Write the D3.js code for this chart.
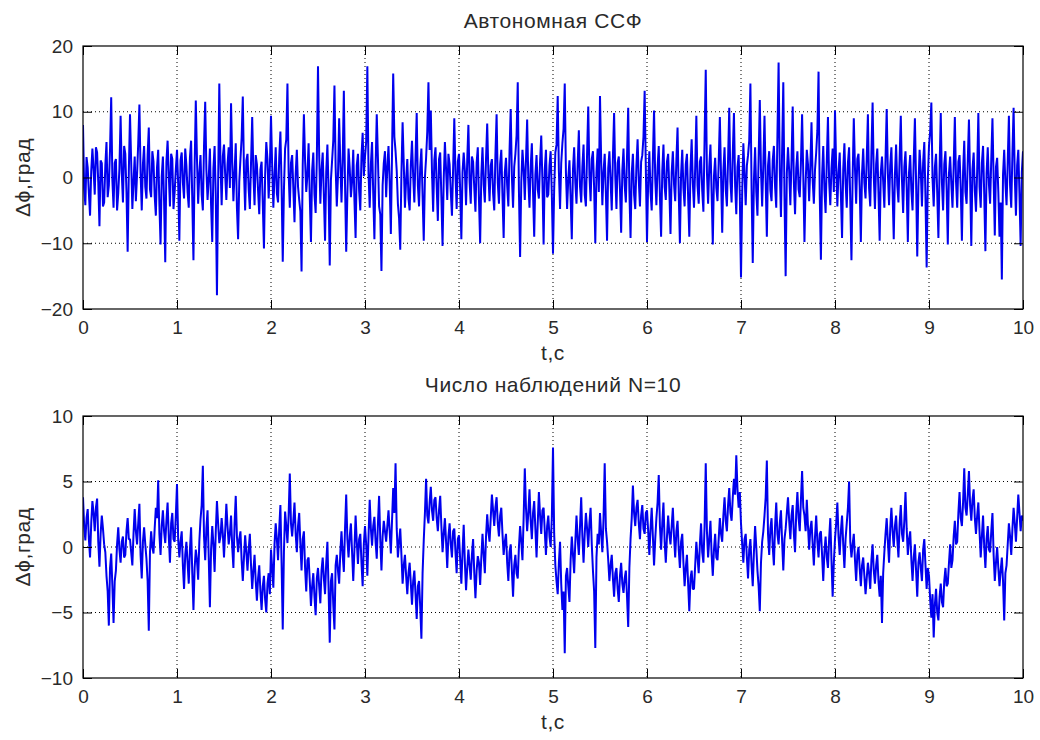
<!DOCTYPE html>
<html>
<head>
<meta charset="utf-8">
<script src="https://cdn.jsdelivr.net/npm/d3@7"></script>
<style>
  body { margin: 0; background: #fff; }
  text { font-family: "Liberation Sans", Arial, sans-serif; fill: #2a2a2a; }
</style>
</head>
<body>
<script>
// time step of the samples, seconds
const dt = 0.0125

// "Автономная ССФ" - phase error, deg (0..10 s, 20 samples per row = 0.25 s)
const autonomous = [
  8.0, -1.6, -4.2, 3.1, 1.5, -2.4, -5.8, 0.9, 4.4, 1.2, -2.6, 4.6, 3.8, -0.8, -7.4, 2.6, 2.2, -4.4, -3.8, 1.8,
  5.4, -3.0, -1.2, 4.2, 12.2, -0.4, -4.6, 2.2, 2.8, -5.0, -2.4, 1.4, 9.4, 0.6, -3.8, 4.8, 3.6, -2.2, -11.3, 1.0,
  9.6, 2.4, -4.8, -0.6, 3.2, -3.6, 0.4, 5.2, 11.1, 0.8, -5.0, 2.0, 4.8, -1.4, -3.2, 3.4, 7.6, -1.8, -3.0, 4.0,
  2.4, -2.8, -5.8, 1.6, 4.2, -4.0, -10.2, 0.2, 3.2, -3.6, -12.9, 2.4, 5.6, 0.4, -4.4, 3.6, 2.8, -4.8, -2.2, 1.2,
  4.2, -1.0, -9.6, 2.6, 3.8, -0.8, -3.2, 4.4, 1.8, -2.2, -4.6, 3.0, 5.6, -3.4, -12.6, 1.6, 11.7, 2.8, -4.0, 0.6,
  3.4, -2.6, -5.0, 4.8, 11.5, 1.2, -3.4, -0.2, 4.4, -4.2, -9.8, 1.4, 4.8, -2.8, -17.9, -1.0, 14.3, 2.2, -4.2, 3.2,
  5.0, 0.4, -3.4, 2.0, 4.6, -1.6, 11.3, 2.4, -3.6, 0.8, 5.2, -4.6, -9.4, -0.6, 2.8, 6.0, 12.3, 1.0, -5.0, 2.6,
  3.6, -1.8, -4.8, 2.2, 9.2, 0.6, -4.2, 3.4, 2.0, -2.0, -5.6, 1.2, 2.4, -4.0, -10.8, 0.4, 5.4, 2.8, -3.2, 1.4,
  9.4, 1.8, -4.6, 0.2, 4.6, -2.4, -3.8, 3.0, 7.0, -1.2, -12.8, -2.0, 4.4, 5.8, 14.3, 0.8, -4.6, 2.2, 3.4, -1.6,
  -6.8, 0.6, 4.2, -1.4, -3.4, -5.2, -14.3, 1.8, 9.6, 2.6, -2.2, 0.4, 5.2, -3.0, -9.8, 1.0, 3.8, -2.6, -5.4, 2.8,
  16.9, 3.4, -4.0, 1.2, 3.8, -2.8, -9.6, 0.8, 5.0, -1.8, -13.4, -0.4, 2.6, 5.6, 14.0, 1.6, -4.4, 0.2, 9.0, 2.2,
  -3.8, 2.4, 13.2, -1.0, -11.3, -2.6, 4.4, 1.4, -3.0, -0.6, 4.2, -3.4, -9.2, 1.8, 3.6, -2.0, -5.0, 3.2, 6.8, 0.2,
  3.2, 5.4, 16.9, 0.6, -4.6, 2.0, 5.4, -2.4, -9.4, 1.4, 9.6, 3.0, -4.4, -5.6, -14.2, -1.2, 2.2, 4.0, -3.0, 1.6,
  4.8, -0.8, -8.6, 3.6, 15.8, 6.2, 4.0, 1.0, -4.0, -6.2, -11.0, 0.6, 8.4, 2.0, -4.6, -0.4, 2.8, -3.2, -5.0, 1.8,
  5.6, 0.2, -3.8, 3.0, 9.8, -1.2, -4.4, 1.6, 4.4, -2.8, -9.6, 0.0, 3.0, 7.0, 14.5, 4.2, 10.2, 1.0, -5.2, 2.6,
  4.6, -1.4, -6.6, 2.8, 3.8, -3.0, -10.4, -0.2, 5.4, 1.2, -3.4, 3.6, 2.0, -2.2, -5.8, 1.4, 9.0, 0.4, -4.8, 2.4,
  3.6, -2.0, -9.4, 0.8, 3.8, 1.0, -4.2, 2.6, 8.0, -0.6, -4.0, 3.2, 2.4, -1.6, -5.2, 2.2, 4.6, -3.4, -10.0, 0.4,
  4.6, -1.0, -3.8, 2.8, 8.2, 0.6, -3.6, 1.8, 2.8, -2.4, -5.0, 3.4, 9.6, -0.8, -4.0, 2.0, 4.2, -2.8, -9.2, 0.8,
  3.0, -1.2, -4.4, 4.0, 10.4, 0.2, -4.6, 1.6, 3.6, 6.4, 14.5, -2.0, -12.1, -0.8, 4.2, 1.4, -3.4, 2.6, 8.8, -0.4,
  -4.6, 1.6, 5.2, -2.2, -9.0, 0.4, 3.4, -1.8, -3.2, 2.4, 6.4, -0.6, -10.2, 1.2, 4.2, -3.0, -2.6, 1.8, 4.0, -2.6,
  -11.6, -1.8, 3.8, 5.0, 12.4, 1.0, -4.8, 2.2, 5.2, 7.4, 14.3, 0.8, -4.8, -0.2, 2.6, -3.2, -9.4, 1.2, 4.6, -0.8,
  -4.0, 2.0, 7.2, -1.4, -3.8, 1.6, 5.0, -2.6, -4.4, 3.6, 10.8, 0.4, -3.6, 2.8, 4.0, -1.6, -10.0, 0.8, 4.4, -2.2,
  12.4, 2.6, -4.2, 0.8, 3.6, -2.4, -9.6, 1.4, 4.0, -0.6, -5.0, 3.2, 9.8, 0.2, -4.8, 2.2, 3.2, -1.8, -8.4, 1.0,
  4.4, -1.2, -3.8, 3.2, 10.6, -2.0, -9.2, 0.6, 3.6, -2.6, -4.8, 1.8, 5.8, -0.4, -4.4, 2.4, 3.4, 6.2, 13.2, 1.4,
  -9.8, -0.6, 4.0, -2.2, -5.0, 2.8, 10.2, -0.2, -4.2, 1.6, 4.8, -2.8, -9.0, 1.0, 5.0, -1.4, -3.4, 2.4, 3.6, -1.8,
  -8.6, 0.8, 4.0, -1.0, -3.6, 2.6, 7.6, -2.4, -10.0, 0.4, 4.2, -1.6, -4.4, 2.0, 3.6, -3.0, -9.0, 1.2, 5.8, -0.8,
  -4.6, 1.4, 9.4, -1.2, -4.0, 2.4, 3.2, -2.0, -5.2, 5.8, 16.4, 0.8, -4.0, 1.6, 5.0, -2.4, -10.2, 0.2, 3.0, -1.6,
  -3.6, 2.2, 9.2, 0.4, -8.4, 1.0, 4.6, -1.8, -4.4, 2.8, 10.6, -0.6, -3.8, 3.6, 9.8, -1.2, -5.6, 1.6, 3.4, -2.8,
  -15.2, -2.4, 5.2, 0.6, -4.2, 1.8, 3.4, 5.6, 14.3, -1.6, -13.0, -0.4, 4.6, -2.2, -5.8, 3.0, 11.8, 1.2, -4.4, 2.0,
  9.4, -0.6, -9.0, 1.8, 4.0, -2.0, -3.6, 2.6, 4.8, -1.4, -4.6, 6.4, 17.5, 1.0, -6.0, 4.2, 14.5, -2.8, -15.0, 0.6,
  4.6, 1.0, -4.2, 2.6, 10.8, -0.8, -5.6, 1.4, 4.0, -1.8, -3.0, 2.2, 9.6, 0.4, -9.8, -1.0, 4.2, 2.0, -3.6, 1.6,
  8.4, -0.4, -4.0, 1.2, 3.8, 7.2, 16.1, -2.6, -12.5, 0.2, 4.8, -1.8, -5.4, 2.4, 9.2, -0.6, -4.2, 1.4, 4.4, -2.2,
  10.2, 1.6, -4.4, 0.8, 3.8, -2.6, -9.2, 1.2, 5.2, -0.8, -4.6, 2.2, 4.6, -3.6, -12.6, 0.0, 9.0, 1.4, -4.0, 2.8,
  3.6, -1.4, -9.8, 0.6, 4.4, -0.8, -3.2, 2.8, 9.6, -1.6, -4.4, 3.8, 11.4, 0.2, -4.8, 2.0, 4.4, -2.4, -9.6, 0.8,
  3.2, -0.6, -4.6, 2.8, 10.4, 0.6, -4.2, 1.8, 4.6, -2.2, -9.4, 0.4, 5.0, -1.2, -3.8, 3.0, 9.4, -0.4, -5.4, 1.6,
  4.0, -1.6, -9.8, 0.8, 3.4, -2.0, -5.0, 2.6, 9.0, -0.6, -12.0, -1.4, 4.2, 1.0, -4.4, 2.2, 5.4, -3.0, -13.7, -0.2,
  4.8, 7.0, 11.4, -0.2, -4.4, 1.6, 3.6, -2.4, -9.2, 1.2, 9.8, -0.8, -5.0, 2.0, 4.0, -1.8, -10.2, 0.6, 3.2, -1.0,
  -4.6, 1.8, 9.2, -0.6, -4.6, 2.4, 3.4, -1.6, -9.6, 0.8, 5.6, -2.2, -4.0, 2.6, 8.8, -0.4, -10.4, 1.2, 3.8, -2.0,
  -5.2, 1.0, 9.8, -1.4, -4.6, 2.2, 4.8, -2.6, -11.2, 0.6, 4.6, -1.0, -4.0, 2.8, 9.0, -0.2, -8.8, 1.6, 3.0, -2.2,
  -9.0, -3.8, -15.5, 0.4, 4.2, -0.8, -4.2, 2.4, 9.4, -1.2, -4.6, 3.6, 10.6, 0.2, -5.8, 1.8, 4.2, -2.6, -10.4, 0.8,
  4.0
]

// "Число наблюдений N=10" - phase error, deg
const filtered = [
  3.8, 1.6, 0.5, 2.2, 2.9, 0.6, -0.8, 1.8, 3.5, 2.6, 1.2, 3.0, 3.7, 0.4, -1.5, 1.0, 2.4, 1.4, 0.2, -0.4,
  -2.2, -3.4, -6.0, -1.6, -0.5, -3.0, -5.8, -2.6, -1.8, 0.2, 1.5, -0.2, -1.2, 0.4, 0.8, -0.8, -0.6, 1.2, 2.2, 0.6,
  0.6, -0.4, -1.4, 1.0, 2.9, 1.2, 0.2, 1.8, 3.3, -0.6, -2.4, 0.4, 1.5, 0.2, -0.9, -2.6, -6.4, -0.4, 1.2, 0.0,
  -0.5, 1.4, 3.0, 2.2, 5.1, 1.0, -0.6, 1.6, 2.8, 1.2, 0.3, 2.0, 3.4, 0.8, -1.2, 1.8, 2.6, 0.6, 0.4, 2.4,
  4.8, 0.6, -0.8, 0.4, 1.2, -1.4, -3.2, -0.6, 0.4, -1.2, -2.8, -0.2, 1.5, -2.0, -4.8, -1.6, -0.2, -1.0, -2.5, 0.4,
  2.1, 3.2, 6.2, 0.8, -1.0, 1.4, 2.8, -0.8, -4.6, -0.2, 1.6, 0.2, -1.9, 1.2, 3.5, 1.8, 0.3, 0.8, 2.2, 1.0,
  -0.8, 1.2, 3.3, 1.6, 0.2, 1.0, 2.4, 0.0, -1.6, 1.8, 3.9, 0.8, -0.4, 0.6, 1.2, -1.0, -2.6, -0.8, 0.9, -0.4,
  -1.8, -0.2, 1.0, -1.4, -3.2, -1.8, -0.6, -2.6, -4.1, -2.4, -1.4, -3.4, -4.8, -3.0, -2.2, -4.0, -5.0, -2.8, -2.0, -3.6,
  -0.2, -1.6, -3.1, 0.2, 1.8, 0.6, -1.0, 1.4, 3.2, -1.2, -6.3, -0.4, 2.7, 1.6, 0.3, 2.4, 5.6, 1.8, 0.8, 2.0,
  3.4, 1.0, -0.4, 1.6, 2.6, 0.2, -1.8, 0.6, 1.2, -1.6, -3.4, -1.0, -0.8, -2.6, -4.5, -3.0, -2.0, -3.8, -5.2, -2.4,
  -1.6, -3.0, -4.3, -1.8, -0.8, -2.4, -3.6, -1.2, 0.4, -3.2, -7.3, -2.6, -2.0, -4.4, -6.3, -1.4, -0.6, -1.8, -2.8, -0.4,
  1.2, -0.6, -1.9, 1.4, 4.0, 0.6, -0.8, 0.8, 1.8, -0.4, -2.6, -0.2, 2.4, 0.4, -1.3, 0.6, 1.0, -1.2, -3.0, 0.2,
  1.6, 0.2, -2.2, 0.8, 3.6, 1.4, 0.1, 1.6, 2.3, 0.4, -0.9, 1.8, 3.9, 0.6, -1.8, 0.8, 2.0, 1.2, 0.4, 1.6,
  2.8, 1.2, -0.5, 2.0, 4.5, 2.6, 6.4, 1.4, -0.8, 0.4, 1.4, -0.6, -2.8, -1.4, -0.6, -2.2, -3.6, -2.0, -1.2, -2.8,
  -4.4, -2.6, -1.8, -3.6, -5.5, -3.0, -2.6, -4.6, -7.0, -2.0, 0.5, 2.6, 5.2, 2.4, 1.8, 3.4, 4.6, 2.8, 2.0, 3.6,
  3.8, 2.2, 1.2, 2.8, 3.9, 1.6, -0.4, 1.0, 2.2, 0.4, -1.6, 0.8, 1.8, 0.2, -0.8, 1.2, 1.4, -0.4, -2.0, 0.6,
  0.9, -1.0, -2.8, -0.4, 1.7, -1.2, -3.3, -1.6, -0.2, -1.4, -2.5, -0.6, 0.6, -2.0, -3.9, -1.8, -0.7, -1.2, -2.9, -0.8,
  1.0, -0.6, -2.0, 0.8, 2.5, 1.2, 0.4, 2.2, 4.0, 2.8, 1.6, 3.0, 3.8, 1.8, 0.8, 2.4, 3.0, 1.0, -0.6, 0.4,
  1.0, -1.2, -2.6, -0.4, 0.2, -1.8, -3.8, -1.4, -0.6, -2.0, -2.4, 0.0, 1.6, 0.4, -1.0, 2.2, 6.0, 3.0, 1.2, 2.6,
  4.4, 2.0, 0.6, 2.6, 3.5, 1.4, -0.8, 1.8, 4.2, 2.4, 1.0, 2.8, 3.0, 1.2, -0.6, 1.6, 2.4, 0.8, 0.0, 2.2,
  7.6, 1.0, -1.4, -2.6, -3.6, -1.2, 0.4, -2.8, -4.8, -3.4, -8.1, -2.2, -1.6, -3.0, -4.2, -1.0, 0.8, -0.6, -2.0, 0.4,
  2.4, 0.6, -0.6, 1.6, 3.8, 0.8, -1.2, 1.0, 2.6, 1.4, 0.0, 1.8, 3.0, 0.2, -1.8, -3.4, -7.7, -0.8, 1.0, 0.2,
  2.6, 1.0, -0.4, 2.2, 6.4, 1.4, 0.4, -1.0, -2.6, -1.4, -0.6, -2.4, -3.8, -2.0, -1.6, -3.2, -4.2, -2.2, -1.2, -2.8,
  -3.5, -2.4, -1.8, -3.8, -6.1, -1.6, 0.6, 2.2, 4.7, 2.6, 1.6, 3.0, 3.6, 1.8, 0.6, 2.4, 3.2, 1.4, 1.0, 2.6,
  2.8, 1.2, -0.6, 1.4, 3.0, 0.8, -1.4, 0.6, 2.2, 3.4, 5.5, 1.6, -0.2, 1.8, 3.4, 0.4, -1.2, 0.8, 2.4, 1.0,
  0.2, 1.6, 3.0, 0.8, -0.8, 1.2, 2.0, -0.2, -1.6, 0.4, 1.0, -1.2, -3.0, -1.6, -0.6, -2.8, -4.9, -2.4, -1.8, -3.2,
  -3.2, -1.4, 0.4, -0.8, -2.0, 0.2, 1.8, -0.4, -1.2, 1.6, 6.4, 1.2, -0.8, 0.6, 2.0, -0.6, -2.2, -0.2, 1.0, -0.8,
  -1.0, 0.6, 2.2, 1.0, 0.4, 2.4, 3.8, 2.0, 1.2, 3.2, 4.5, 2.6, 2.0, 3.8, 5.2, 4.0, 7.0, 4.4, 3.0, 4.2,
  1.8, 0.2, -1.2, 0.6, 1.0, -0.8, -2.4, -0.2, 0.6, -1.4, -3.0, -0.4, 1.6, 0.0, -1.8, -3.0, -4.9, -1.2, 0.4, 1.2,
  2.4, 3.8, 6.6, 1.0, -0.6, 1.4, 2.2, 0.0, -1.4, 1.6, 3.4, 1.0, 0.2, 1.8, 2.8, 0.4, -1.8, 0.6, 1.4, 2.6,
  3.8, 2.0, 0.6, 2.4, 3.2, 1.0, -0.4, 2.6, 4.2, 2.2, 1.2, 3.6, 5.8, 3.0, 2.4, 1.2, 3.6, 1.6, -0.2, 1.4,
  2.0, 0.2, -1.4, 0.8, 2.4, 0.4, -0.8, 1.0, 1.2, -0.6, -2.6, -0.4, 0.8, -0.8, -1.6, 0.6, 2.2, -1.0, -3.8, -1.2,
  0.6, 1.8, 3.4, 0.8, -0.6, 1.2, 2.4, 0.2, -1.6, 0.6, 1.8, 3.0, 5.0, 0.4, -0.8, 0.2, 1.0, -1.0, -2.6, -0.6,
  0.0, -1.6, -3.0, -1.4, -0.8, -2.2, -3.6, -2.4, -1.2, -2.0, -3.2, -1.0, 0.2, -1.8, -2.8, -1.4, -0.6, -2.6, -3.8, -2.2,
  -5.8, -2.0, -0.4, 1.0, 2.2, 0.4, -1.2, 1.4, 3.0, 1.2, 0.0, 1.6, 2.4, 0.6, -0.8, 1.8, 3.2, 1.0, 0.4, 2.0,
  4.2, 1.4, -0.6, 0.6, 1.2, -1.0, -2.6, -0.8, 0.2, -1.8, -3.8, -1.2, -0.4, -1.6, -2.6, -0.2, 0.6, -1.4, -3.2, -1.6,
  -2.2, -4.0, -5.4, -3.6, -6.9, -4.4, -3.2, -5.0, -5.6, -3.8, -2.8, -4.2, -4.6, -2.6, -1.6, -3.0, -2.8, -1.2, 0.2, -1.6,
  -1.0, 0.8, 2.0, 0.2, 0.4, 2.6, 4.2, 2.2, 1.6, 3.4, 6.0, 3.0, 2.4, 4.0, 5.8, 3.2, 2.0, 3.6, 4.4, 2.2,
  1.0, 2.4, 3.4, 1.2, -0.8, 0.8, 2.4, 0.0, -1.6, 0.6, 1.6, -0.2, -0.4, 1.2, 2.6, -0.6, -2.6, -1.2, 0.0, -1.6,
  -3.0, -1.8, -0.8, -2.6, -5.6, -2.0, -1.4, 0.2, 1.8, 0.8, -0.6, 1.4, 3.0, 1.8, 0.4, 2.2, 4.0, 2.6, 1.2, 2.4,
  2.0
]

const xTicks = [0, 1, 2, 3, 4, 5, 6, 7, 8, 9, 10]
const yTicksTop = [-20, -10, 0, 10, 20]
const yTicksBottom = [-10, -5, 0, 5, 10]

const width = 1040
const height = 740
const left = 83
const right = 1023

const svg = d3.select('body')
  .append('svg')
  .attr('width', width)
  .attr('height', height)

svg.append('rect').attr('width', width).attr('height', height).attr('fill', '#fff')

const x = d3.scaleLinear().domain([0, 10]).range([left, right])

function panel (opts) {
  const { values, top, bottom, yTicks, title, titleY, xlabelY, id } = opts
  const y = d3.scaleLinear().domain([yTicks[0], yTicks[yTicks.length - 1]]).range([bottom, top])
  const g = svg.append('g')
  const h = bottom - top

  g.append('clipPath').attr('id', id)
    .append('rect').attr('x', left).attr('y', top).attr('width', right - left).attr('height', h)

  // dotted grid
  g.append('g')
    .selectAll('line')
    .data(xTicks.slice(1, -1))
    .enter().append('line')
    .attr('x1', d => x(d)).attr('x2', d => x(d))
    .attr('y1', top).attr('y2', bottom)
    .attr('stroke', '#000').attr('stroke-width', 1)
    .attr('stroke-dasharray', '1,3')
  g.append('g')
    .selectAll('line')
    .data(yTicks.slice(1, -1))
    .enter().append('line')
    .attr('y1', d => y(d)).attr('y2', d => y(d))
    .attr('x1', left).attr('x2', right)
    .attr('stroke', '#000').attr('stroke-width', 1)
    .attr('stroke-dasharray', '1,3')

  const line = d3.line()
    .x((d, i) => x(i * dt))
    .y(d => y(d))

  g.append('path')
    .datum(values)
    .attr('clip-path', `url(#${id})`)
    .attr('fill', 'none')
    .attr('stroke', '#0000ee')
    .attr('stroke-width', 2)
    .attr('stroke-linejoin', 'bevel')
    .attr('d', line)

  // axes, ticks pointing inwards on all four sides
  g.append('g').attr('transform', `translate(0,${bottom})`)
    .call(d3.axisBottom(x).tickValues(xTicks).tickSize(-9).tickPadding(12).tickFormat(d3.format('d')))
  g.append('g').attr('transform', `translate(0,${top})`)
    .call(d3.axisTop(x).tickValues(xTicks).tickSize(-9).tickFormat(''))
  g.append('g').attr('transform', `translate(${left},0)`)
    .call(d3.axisLeft(y).tickValues(yTicks).tickSize(-9).tickPadding(10).tickFormat(d3.format('d')))
  g.append('g').attr('transform', `translate(${right},0)`)
    .call(d3.axisRight(y).tickValues(yTicks).tickSize(-9).tickFormat(''))

  g.selectAll('.domain').remove()
  g.selectAll('.tick line').attr('stroke', '#000')
  g.selectAll('.tick text').attr('font-size', 19).attr('fill', '#2a2a2a')
    .attr('font-family', '"Liberation Sans", Arial, sans-serif')

  g.append('rect')
    .attr('x', left).attr('y', top).attr('width', right - left).attr('height', h)
    .attr('fill', 'none').attr('stroke', '#000').attr('stroke-width', 1.2)

  g.append('text')
    .attr('x', (left + right) / 2).attr('y', titleY)
    .attr('text-anchor', 'middle').attr('font-size', 21).attr('letter-spacing', 0.6)
    .text(title)
  g.append('text')
    .attr('x', (left + right) / 2).attr('y', xlabelY)
    .attr('text-anchor', 'middle').attr('font-size', 21).attr('letter-spacing', 0.6)
    .text('t,c')
  g.append('text')
    .attr('transform', `translate(30,${(top + bottom) / 2}) rotate(-90)`)
    .attr('text-anchor', 'middle').attr('font-size', 21).attr('letter-spacing', 0.6)
    .text('Δϕ,град')
}

panel({
  id: 'clipTop', values: autonomous, top: 46, bottom: 309, yTicks: yTicksTop,
  title: 'Автономная ССФ', titleY: 28, xlabelY: 360
})
panel({
  id: 'clipBottom', values: filtered, top: 416, bottom: 678, yTicks: yTicksBottom,
  title: 'Число наблюдений N=10', titleY: 392, xlabelY: 729
})
</script>
</body>
</html>
